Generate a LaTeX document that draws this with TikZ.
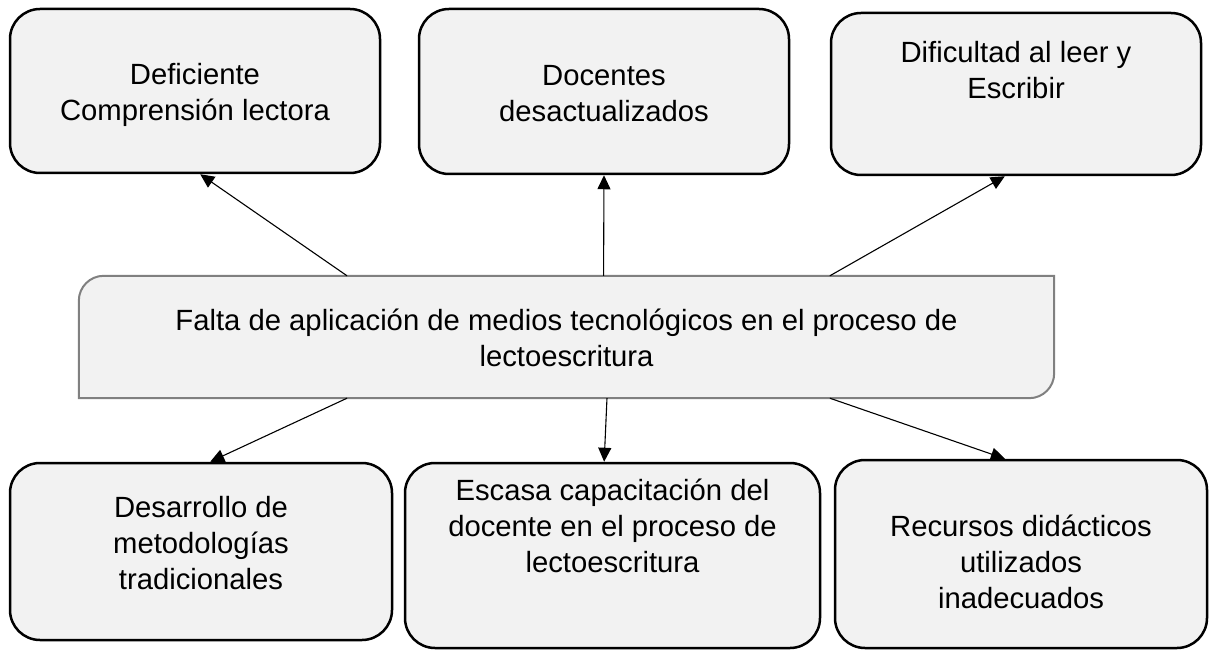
\documentclass[tikz,border=0pt]{standalone}
\usepackage{fontspec}
\setmainfont{Liberation Sans}
\usetikzlibrary{arrows.meta,calc}
\definecolor{boxfill}{HTML}{F2F2F2}
\definecolor{midline}{HTML}{808080}
\newcommand{\lifttext}[2]{\raisebox{#1}[0pt][0pt]{\begin{tabular}{@{}c@{}}#2\end{tabular}}}
\tikzset{
  outerbox/.style={draw=black, line width=2.5pt, fill=boxfill, rounded corners=30pt, inner sep=0pt},
  arr/.style={-{Triangle[length=14pt,width=13pt]}, line width=1.1pt, black},
}
\begin{document}
\begin{tikzpicture}[x=1pt,y=1pt,font=\fontsize{29.25}{36}\selectfont]
\useasboundingbox (0,0) rectangle (1216,-652);
% top boxes
\node[outerbox, minimum width=370pt, minimum height=164pt] (b1) at (195,-91) {\lifttext{-11pt}{Deficiente\\Comprensión lectora}};
\node[outerbox, minimum width=370pt, minimum height=165pt] (b2) at (604,-91.5) {\lifttext{-11pt}{Docentes\\desactualizados}};
\node[outerbox, minimum width=370pt, minimum height=162pt] (b3) at (1016,-94) {\lifttext{14pt}{Dificultad al leer y\\Escribir}};
% bottom boxes
\node[outerbox, minimum width=382pt, minimum height=177pt] (b4) at (201,-551.5) {\lifttext{-1.5pt}{Desarrollo de\\metodologías\\tradicionales}};
\node[outerbox, minimum width=415pt, minimum height=185pt] (b5) at (612.5,-555.5) {\lifttext{20pt}{Escasa capacitación del\\docente en el proceso de\\lectoescritura}};
\node[outerbox, minimum width=372pt, minimum height=188pt] (b6) at (1021,-554) {\lifttext{-18pt}{Recursos didácticos\\utilizados\\inadecuados}};
% central box (outline drawn with two rounded corners)
\node[inner sep=0pt, minimum width=975pt, minimum height=122pt] (c) at (566.5,-337) {};
\filldraw[fill=boxfill, draw=midline, line width=2pt] (c.south west) -- ([yshift=-25pt]c.north west) arc[start angle=180,end angle=90,radius=25pt] -- (c.north east) -- ([yshift=25pt]c.south east) arc[start angle=0,end angle=-90,radius=25pt] -- cycle;
\node[inner sep=0pt] (ct) at (c.center) {\lifttext{-10.5pt}{Falta de aplicación de medios tecnológicos en el proceso de\\lectoescritura}};
% arrows
\draw[arr] ($(c.north west)!0.275!(c.north east)$) -- ($(b1.south west)!0.514!(b1.south east)$);
\draw[arr] ($(c.north west)!0.538!(c.north east)$) -- ($(b2.south west)!0.5!(b2.south east)$);
\draw[arr] ($(c.north west)!0.770!(c.north east)$) -- ($(b3.south west)!0.470!(b3.south east)$);
\draw[arr] ($(c.south west)!0.275!(c.south east)$) -- ($(b4.north west)!0.524!(b4.north east)$);
\draw[arr] ($(c.south west)!0.5415!(c.south east)$) -- ($(b5.north west)!0.48!(b5.north east)$);
\draw[arr] ($(c.south west)!0.770!(c.south east)$) -- ($(b6.north west)!0.457!(b6.north east)$);
\end{tikzpicture}
\end{document}
